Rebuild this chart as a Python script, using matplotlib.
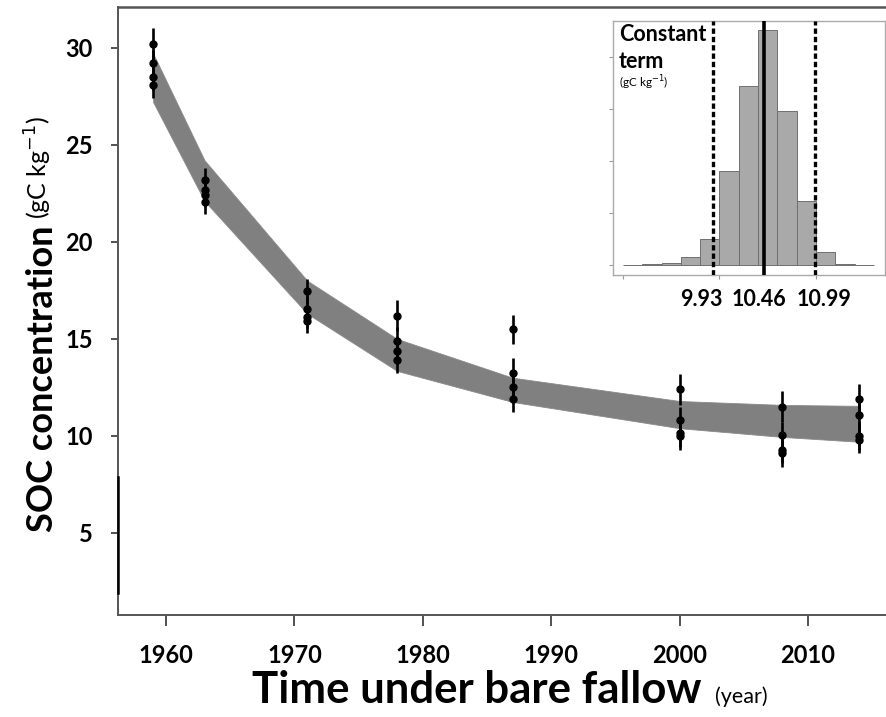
import matplotlib
matplotlib.use("Agg")
import matplotlib.pyplot as plt

plt.rcParams["font.family"] = ["Lato", "DejaVu Sans"]

# model band (min/max of the fitted curves)
years = [1959, 1963, 1971, 1978, 1987, 2000, 2008, 2014]
band_upper = [29.7, 24.2, 18.0, 15.0, 13.0, 11.8, 11.6, 11.55]
band_lower = [27.2, 22.1, 16.3, 13.35, 11.75, 10.4, 9.95, 9.7]

# observed SOC, four replicates per sampling year
soc_obs = [
    [30.2, 29.2, 28.5, 28.1],
    [23.2, 22.65, 22.4, 22.05],
    [17.45, 16.55, 16.15, 15.9],
    [16.2, 14.9, 14.4, 13.9],
    [15.5, 13.25, 12.5, 11.9],
    [12.4, 10.8, 10.15, 10.0],
    [11.5, 10.03, 9.3, 9.1],
    [11.9, 11.1, 10.0, 9.8],
]
soc_err = [
    [0.8, 0.7, 0.7, 0.7],
    [0.6, 0.6, 0.6, 0.6],
    [0.65, 0.65, 0.6, 0.6],
    [0.8, 0.7, 0.7, 0.65],
    [0.75, 0.75, 0.7, 0.65],
    [0.8, 0.7, 0.7, 0.7],
    [0.8, 0.7, 0.7, 0.7],
    [0.8, 0.7, 0.7, 0.7],
]

# inset histogram of the constant term
bin_left = [9.0, 9.2, 9.4, 9.6, 9.8, 10.0, 10.2, 10.4, 10.6, 10.8, 11.0, 11.2, 11.4]
bin_count = [0.3, 1.3, 3.2, 16, 51, 182, 345, 453, 297, 124, 25, 2, 0.6]
ci_low, ci_mid, ci_high = 9.93, 10.46, 10.99
ci_labels = ["9.93", "10.46", "10.99"]
ci_label_x = [9.816, 10.41, 11.083]

W, H = 886, 717
fig = plt.figure(figsize=(W / 100, H / 100), dpi=100)
ax = fig.add_axes([118 / W, 1 - 615 / H, (W - 118) / W, 608 / H])

ax.fill_between(years, band_lower, band_upper, color="#808080", lw=0.6, edgecolor="#8a8a8a", zorder=2)
for yr, vals, errs in zip(years, soc_obs, soc_err):
    ax.errorbar([yr] * len(vals), vals, yerr=errs, fmt="o", color="black",
                ms=5, elinewidth=1.9, capsize=0, zorder=3)

ax.set_xlim(1956.26, 2016.07)
ax.set_ylim(0.775, 32.1)
ax.set_xticks([1960, 1970, 1980, 1990, 2000, 2010])
ax.set_yticks([5, 10, 15, 20, 25, 30])
ax.tick_params(axis="x", length=8, width=1.3, color="#444444", pad=13, labelsize=17)
ax.tick_params(axis="y", length=5, width=1.3, color="#444444", pad=13, labelsize=17)
for lab in ax.get_xticklabels() + ax.get_yticklabels():
    lab.set_fontweight("bold")
ax.spines["right"].set_visible(False)
for s in ["left", "bottom"]:
    ax.spines[s].set_color("#555555")
    ax.spines[s].set_linewidth(1.4)
ax.spines["top"].set_color("#555555")
ax.spines["top"].set_linewidth(1.8)
# dark segment on the left axis
ax.plot([1956.26, 1956.26], [1.9, 7.87], color="black", lw=1.8, clip_on=False, zorder=4)

# axis titles
fig.text(53 / W, 1 - 532 / H, "SOC concentration", rotation=90, rotation_mode="anchor",
         ha="left", va="baseline", fontsize=26, fontweight="bold")
fig.text(48 / W, 1 - 219 / H, "(gC kg$^{-1}$)", rotation=90, rotation_mode="anchor",
         ha="left", va="baseline", fontsize=18)
fig.text(252 / W, 1 - 703 / H, "Time under bare fallow", ha="left", va="baseline",
         fontsize=31.5, fontweight="bold")
fig.text(715 / W, 1 - 703 / H, "(year)", ha="left", va="baseline", fontsize=15.5)

# inset
ins = fig.add_axes([612.7 / W, 1 - 275 / H, 272.3 / W, 254.3 / H])
ins.bar(bin_left, bin_count, width=0.2, align="edge", color="#a9a9a9", edgecolor="#6f6f6f", lw=0.7, zorder=2)
ins.axvline(ci_low, color="black", lw=2.4, linestyle=(0, (1.6, 0.9)), zorder=3)
ins.axvline(ci_high, color="black", lw=2.4, linestyle=(0, (1.6, 0.9)), zorder=3)
ins.axvline(ci_mid, color="black", lw=2.6, zorder=3)
ins.set_xlim(8.894, 11.715)
ins.set_ylim(-19.3, 470.8)
ins.set_xticks([9, 10, 11])
ins.set_yticks([0, 100, 200, 300, 400])
ins.set_xticklabels([])
ins.set_yticklabels([])
ins.tick_params(length=3, width=0.8, color="#999999")
for s in ins.spines.values():
    s.set_color("#aaaaaa")
    s.set_linewidth(1.0)
for x, t in zip(ci_label_x, ci_labels):
    ins.text(x, -0.122, t, transform=ins.get_xaxis_transform(), ha="center", va="baseline",
             fontsize=15.5, fontweight="bold")
ins.text(0.022, 0.92, "Constant", transform=ins.transAxes, ha="left", va="baseline",
         fontsize=15.5, fontweight="bold")
ins.text(0.022, 0.815, "term", transform=ins.transAxes, ha="left", va="baseline",
         fontsize=15.5, fontweight="bold")
ins.text(0.022, 0.74, "(gC kg$^{-1}$)", transform=ins.transAxes, ha="left", va="baseline", fontsize=8.5)

fig.savefig("out.png", dpi=100)
